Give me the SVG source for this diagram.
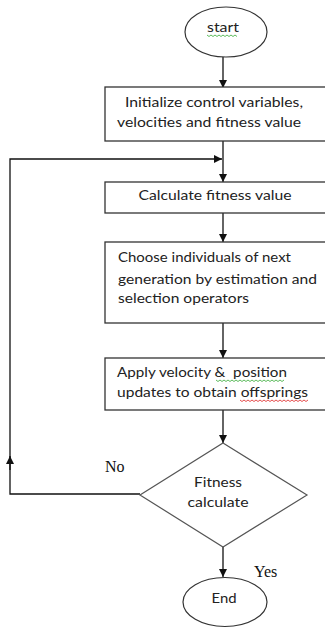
<svg xmlns="http://www.w3.org/2000/svg" width="325" height="628" viewBox="0 0 325 628">
<defs>
<marker id="ah" viewBox="0 0 10 10" refX="10" refY="5" markerWidth="8" markerHeight="8" markerUnits="userSpaceOnUse" orient="auto">
<path d="M0,0 L10,5 L0,10 z" fill="#111"/>
</marker>
<style>
.box{fill:#fff;stroke:#333;stroke-width:1.3}
.dia{fill:#fff;stroke:#555;stroke-width:1.2}
.ell{fill:#fff;stroke:#333;stroke-width:1.2}
.t{font-family:Lato,"Open Sans",sans-serif;font-size:14px;fill:#222}
.s{font-family:"Liberation Serif",serif;font-size:16px;fill:#111}
.c{stroke:#111;stroke-width:1.3;fill:none}
.wg{stroke:#3a3;stroke-width:0.8;fill:none}
.wr{stroke:#d22;stroke-width:0.8;fill:none}
</style>
</defs>
<rect width="325" height="628" fill="#fff"/>
<g id="connectors">
<path class="c" d="M223,57 V88" marker-end="url(#ah)"/>
<path class="c" d="M223,141 V182" marker-end="url(#ah)"/>
<path class="c" d="M140,494 H10 V159 H222" marker-end="url(#ah)"/>
<path class="c" d="M10,470 V456" marker-end="url(#ah)"/>
<path class="c" d="M223,213 V242" marker-end="url(#ah)"/>
<path class="c" d="M223,323 V358" marker-end="url(#ah)"/>
<path class="c" d="M223,410 V443" marker-end="url(#ah)"/>
<path class="c" d="M223,547 V577" marker-end="url(#ah)"/>
<text class="s" x="105" y="472">No</text>
<text class="s" x="254" y="577">Yes</text>
</g>
<g id="start">
<ellipse class="ell" cx="226" cy="32" rx="41" ry="25"/>
<text class="t" x="223" y="32" text-anchor="middle" textLength="32" lengthAdjust="spacingAndGlyphs">start</text>
<path class="wg" d="M207,35 l2,1.5 l2,-1.5 l2,1.5 l2,-1.5 l2,1.5 l2,-1.5 l2,1.5 l2,-1.5 l2,1.5 l2,-1.5 l2,1.5 l2,-1.5 l2,1.5 l2,-1.5 l2,1.5"/>
</g>
<g id="init">
<rect class="box" x="105" y="87" width="230" height="54"/>
<text class="t" x="214" y="107" text-anchor="middle" textLength="178" lengthAdjust="spacingAndGlyphs">Initialize control variables,</text>
<text class="t" x="209" y="127" text-anchor="middle" textLength="184" lengthAdjust="spacingAndGlyphs">velocities and fitness value</text>
</g>
<g id="calc">
<rect class="box" x="105" y="182" width="230" height="31"/>
<text class="t" x="215" y="200" text-anchor="middle" textLength="153" lengthAdjust="spacingAndGlyphs">Calculate fitness value</text>
</g>
<g id="choose">
<rect class="box" x="105" y="242" width="230" height="81"/>
<text class="t" x="118" y="262" textLength="173" lengthAdjust="spacingAndGlyphs">Choose individuals of next</text>
<text class="t" x="118" y="284" textLength="199" lengthAdjust="spacingAndGlyphs">generation by estimation and</text>
<text class="t" x="118" y="303" textLength="131" lengthAdjust="spacingAndGlyphs">selection operators</text>
</g>
<g id="apply">
<rect class="box" x="105" y="358" width="230" height="52"/>
<text class="t" x="117" y="377" textLength="170" lengthAdjust="spacingAndGlyphs">Apply velocity &amp;&#160; position</text>
<text class="t" x="117" y="397" textLength="191" lengthAdjust="spacingAndGlyphs">updates to obtain offsprings</text>
<path class="wg" d="M216,380 l2,1.5 l2,-1.5 l2,1.5 l2,-1.5 l2,1.5 l2,-1.5 l2,1.5 l2,-1.5 l2,1.5 l2,-1.5 l2,1.5 l2,-1.5 l2,1.5 l2,-1.5 l2,1.5 l2,-1.5 l2,1.5 l2,-1.5 l2,1.5 l2,-1.5 l2,1.5 l2,-1.5 l2,1.5 l2,-1.5 l2,1.5 l2,-1.5 l2,1.5 l2,-1.5 l2,1.5 l2,-1.5 l2,1.5 l2,-1.5 l2,1.5 l2,-1.5"/>
<path class="wr" d="M240,400 l2,1.5 l2,-1.5 l2,1.5 l2,-1.5 l2,1.5 l2,-1.5 l2,1.5 l2,-1.5 l2,1.5 l2,-1.5 l2,1.5 l2,-1.5 l2,1.5 l2,-1.5 l2,1.5 l2,-1.5 l2,1.5 l2,-1.5 l2,1.5 l2,-1.5 l2,1.5 l2,-1.5 l2,1.5 l2,-1.5 l2,1.5 l2,-1.5 l2,1.5 l2,-1.5 l2,1.5 l2,-1.5 l2,1.5 l2,-1.5 l2,1.5 l2,-1.5"/>
</g>
<g id="decision">
<polygon class="dia" points="223,443 307,495 223,547 140,495"/>
<text class="t" x="218" y="487" text-anchor="middle" textLength="48" lengthAdjust="spacingAndGlyphs">Fitness</text>
<text class="t" x="218" y="507" text-anchor="middle" textLength="61" lengthAdjust="spacingAndGlyphs">calculate</text>
</g>
<g id="end">
<ellipse class="ell" cx="225" cy="602" rx="42" ry="24.5"/>
<text class="t" x="224" y="603" text-anchor="middle" textLength="25" lengthAdjust="spacingAndGlyphs">End</text>
</g>
</svg>
